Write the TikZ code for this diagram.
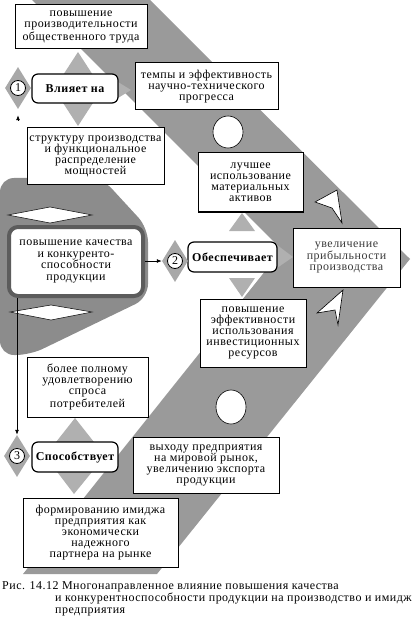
\documentclass[tikz,border=0pt]{standalone}
\usepackage{fontspec}
\setmainfont{Liberation Serif}[LetterSpace=4]
\usetikzlibrary{arrows.meta,shapes.geometric}

\definecolor{bandgray}{HTML}{9A9A9A}
\definecolor{leftgray}{HTML}{8C8C8C}
\definecolor{trigray}{HTML}{B0B0B0}
\definecolor{diagray}{HTML}{A8A8A8}
\definecolor{rimgray}{HTML}{5C5C5C}
\definecolor{softtext}{HTML}{3A3A3A}

\tikzset{
  textbox/.style={draw, line width=1pt, fill=white, align=center, inner sep=0pt,
    font=\fontsize{12}{11}\selectfont},
  labelbox/.style={draw, line width=1.2pt, fill=white, rounded corners=6pt,
    inner sep=0pt, font=\bfseries\fontsize{12}{11}\selectfont},
  mainbox/.style={draw=rimgray, line width=4pt, fill=white, rounded corners=9pt,
    align=center, inner sep=0pt, font=\fontsize{12}{11.5}\selectfont},
  numdiamond/.style={diamond, fill=diagray, inner sep=0pt,
    minimum width=26pt, minimum height=42pt},
  numcircle/.style={circle, draw, line width=0.8pt, fill=white, inner sep=0pt,
    minimum size=15pt, font=\fontsize{12}{11}\selectfont},
  hole/.style={fill=white, draw=black, line width=0.6pt},
  link/.style={line width=0.8pt, -{Latex[length=5pt,width=4pt]}},
}

\begin{document}
\begin{tikzpicture}[x=1pt,y=-1pt]
  \useasboundingbox (0,0) rectangle (412,620);

  \fill[bandgray] (32,0) -- (150,0) -- (410,259) -- (157,574) -- (23,574) -- (282,250) -- cycle;
  \fill[leftgray, rounded corners=14pt] (0,178) -- (102,178) -- (148,228) -- (148,298)
    -- (30,355) -- (0,355) -- cycle;

  \filldraw[hole, line width=0.5pt] (8,215) -- (50,207) -- (92,215) -- (50,223) -- cycle;
  \filldraw[hole, line width=0.5pt] (10,312) -- (51,305) -- (92,312) -- (51,320) -- cycle;

  \fill[trigray] (78,52) -- (102,89) -- (78,126) -- (54,89) -- cycle;
  \fill[trigray] (118,82) -- (131,90) -- (118,98) -- cycle;
  \fill[trigray] (242,213) -- (255,231) -- (229,231) -- cycle;
  \fill[trigray] (229,278) -- (255,278) -- (242,297) -- cycle;
  \fill[trigray] (277,245) -- (293,257) -- (277,268) -- cycle;
  \fill[trigray] (75,418) -- (105,456) -- (74,494) -- (45,456) -- cycle;

  \filldraw[hole] (228,132) ellipse [x radius=15pt, y radius=16pt];
  \filldraw[hole] (231,407) ellipse [x radius=15pt, y radius=17pt];
  \filldraw[hole] (337,190) -- (315,202) -- (332,208) -- (342,223) -- cycle;
  \filldraw[hole] (343,290) -- (317,313) -- (335,310) -- (338,325) -- cycle;

  \node[textbox, minimum width=132pt, minimum height=44pt] (labour) at (81,27)
    {повышение\\производительности\\общественного труда};
  \node[textbox, minimum width=143pt, minimum height=47pt] (progress) at (206.5,86.5)
    {темпы и эффективность\\научно-технического\\прогресса};
  \node[textbox, minimum width=137pt, minimum height=57pt] (structure) at (95.5,156.5)
    {структуру производства\\и функциональное\\распределение\\мощностей};
  \node[textbox, minimum width=105pt, minimum height=59pt] (assets) at (250.5,182.5)
    {лучшее\\использование\\материальных\\активов};
  \node[textbox, text=softtext, minimum width=107pt, minimum height=59pt] (profit) at (346.5,257.5)
    {увеличение\\прибыльности\\производства};
  \node[mainbox, minimum width=134pt, minimum height=69pt] (quality) at (76,261.5)
    {повышение качества\\и конкуренто-\\способности\\продукции};
  \node[textbox, minimum width=106pt, minimum height=68pt] (invest) at (253,333)
    {повышение\\эффективности\\использования\\инвестиционных\\ресурсов};
  \node[textbox, minimum width=121pt, minimum height=60pt] (demand) at (87.5,387)
    {более полному\\удовлетворению\\спроса\\потребителей};
  \node[textbox, minimum width=146pt, minimum height=56pt] (market) at (206,465)
    {выходу предприятия\\на мировой рынок,\\увеличению экспорта\\продукции};
  \node[textbox, minimum width=155pt, minimum height=69pt] (image) at (100.5,532.5)
    {формированию имиджа\\предприятия как\\экономически\\надежного\\партнера на рынке};

  \node[labelbox, minimum width=86pt, minimum height=29pt] (affects) at (75,88.5) {Влияет на};
  \node[labelbox, minimum width=89pt, minimum height=30pt] (ensures) at (232.5,257) {Обеспечивает};
  \node[labelbox, minimum width=86pt, minimum height=30pt] (promotes) at (75,457) {Способствует};

  \node[numdiamond] (d1) at (18,88) {};
  \node[numdiamond] (d2) at (175,261) {};
  \node[numdiamond] (d3) at (17,456) {};
  \node[numcircle] (c1) at (d1) {1};
  \node[numcircle] (c2) at (d2) {2};
  \node[numcircle] (c3) at (d3) {3};

  \coordinate (up1) at (18,120);
  \draw[link] (quality.east |- d2.west) -- (d2.west);
  \draw[link] (d3.north |- quality.south) -- (d3.north);
  \draw[link, shorten >=6pt] (up1) -- (d1.south);

  \node[anchor=north west, align=left, inner sep=0pt, font=\fontsize{12}{12}\selectfont] (caption) at (2,581)
    {Рис. 14.12 Многонаправленное влияние повышения качества\\
     \hspace*{53pt}и конкурентноспособности продукции на производство и имидж\\
     \hspace*{53pt}предприятия};
\end{tikzpicture}
\end{document}
